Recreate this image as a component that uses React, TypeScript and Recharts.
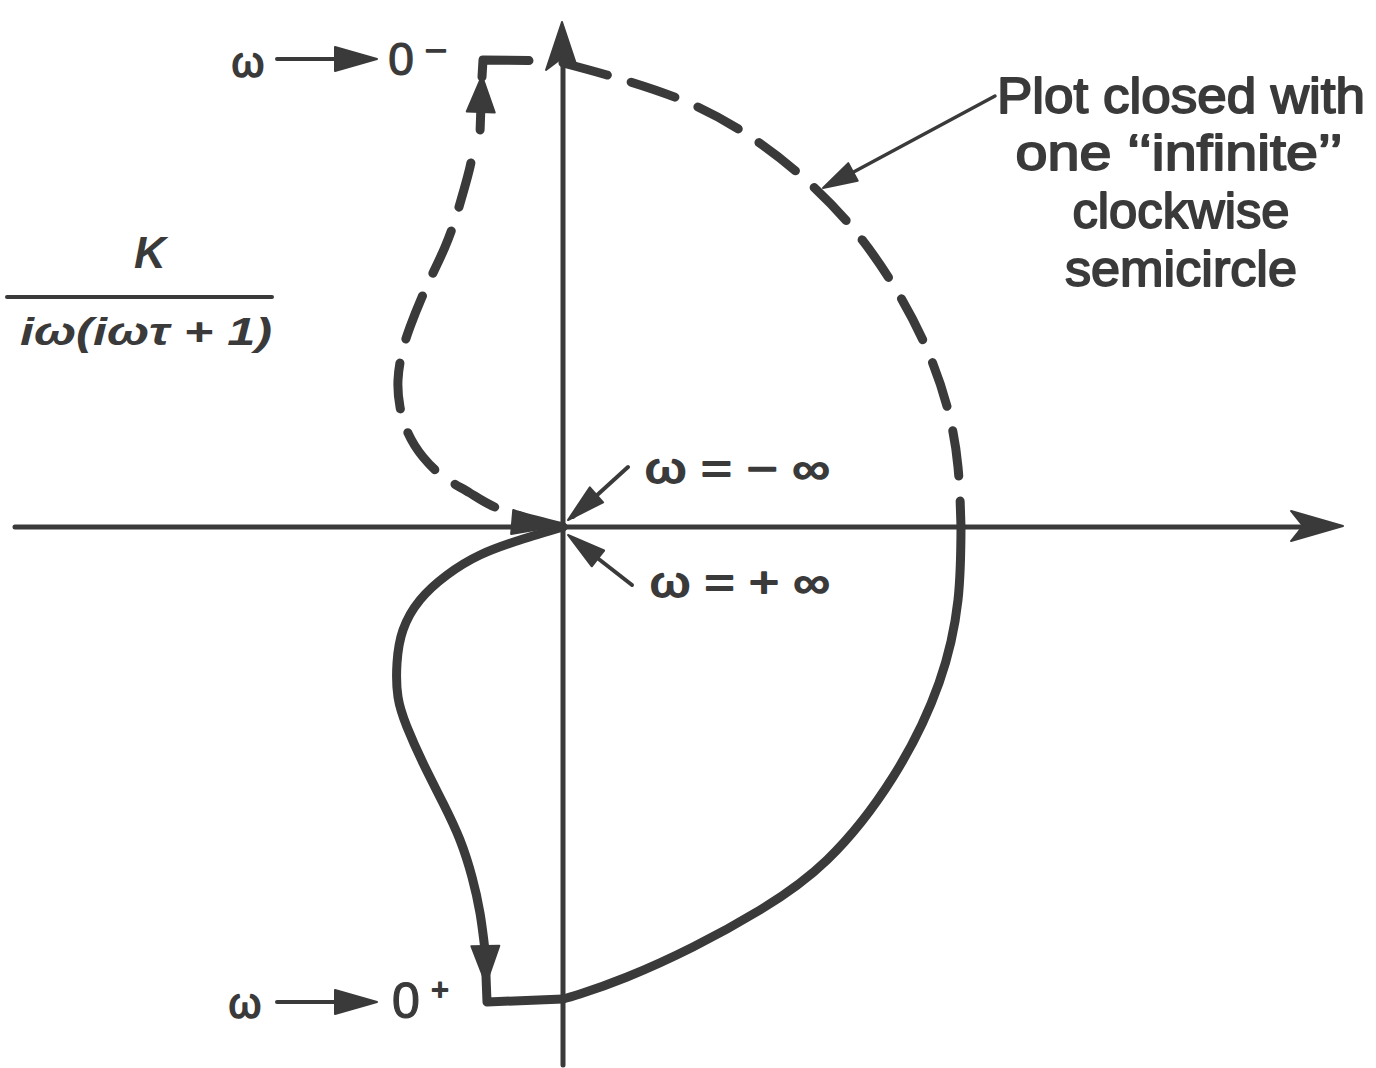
import React from "react";
import { LineChart, Line, XAxis, YAxis, ReferenceLine, ReferenceDot } from "recharts";

const INK = "#3a3a3a";
const FONT = "'Liberation Sans', Arial, sans-serif";

// Drawing units: 1 unit = 100 px, origin where the axes cross (re right, im up).

// ω from −∞ towards 0⁻ (dashed, upper half plane)
const upperLoop = [
  { re: 0, im: 0 },
  { re: -0.61, im: 0.17 },
  { re: -0.93, im: 0.34 },
  { re: -1.18, im: 0.49 },
  { re: -1.4, im: 0.7 },
  { re: -1.55, im: 0.94 },
  { re: -1.63, im: 1.2 },
  { re: -1.65, im: 1.47 },
  { re: -1.61, im: 1.74 },
  { re: -1.53, im: 2.0 },
  { re: -1.41, im: 2.3 },
  { re: -1.3, im: 2.54 },
  { re: -1.18, im: 2.8 },
  { re: -1.08, im: 3.07 },
  { re: -1.0, im: 3.34 },
  { re: -0.93, im: 3.6 },
  { re: -0.88, im: 3.87 },
];
const upperCorner = [
  { re: -0.81, im: 4.5 },
  { re: -0.8, im: 4.67 },
  { re: 0, im: 4.66 },
];
// "infinite" semicircle, upper quarter (dashed)
const upperArc = [
  { re: 0, im: 4.64 },
  { re: 0.44, im: 4.52 },
  { re: 1.14, im: 4.29 },
  { re: 1.77, im: 3.97 },
  { re: 2.35, im: 3.54 },
  { re: 2.87, im: 3.02 },
  { re: 3.29, im: 2.44 },
  { re: 3.63, im: 1.8 },
  { re: 3.85, im: 1.17 },
  { re: 3.95, im: 0.6 },
  { re: 3.98, im: 0 },
];

// ω from 0⁺ to +∞ (solid, lower half plane)
const lowerLoop = [
  { re: 0, im: 0 },
  { re: -0.43, im: -0.13 },
  { re: -0.83, im: -0.28 },
  { re: -1.16, im: -0.48 },
  { re: -1.43, im: -0.73 },
  { re: -1.6, im: -1.03 },
  { re: -1.66, im: -1.36 },
  { re: -1.65, im: -1.7 },
  { re: -1.56, im: -2.0 },
  { re: -1.4, im: -2.36 },
  { re: -1.2, im: -2.76 },
  { re: -1.03, im: -3.13 },
  { re: -0.91, im: -3.5 },
  { re: -0.83, im: -3.86 },
  { re: -0.78, im: -4.23 },
];
const lowerCorner = [
  { re: -0.78, im: -4.23 },
  { re: -0.76, im: -4.75 },
  { re: 0, im: -4.72 },
];
const lowerArc = [
  { re: 0, im: -4.72 },
  { re: 0.17, im: -4.67 },
  { re: 0.64, im: -4.5 },
  { re: 1.3, im: -4.2 },
  { re: 1.97, im: -3.83 },
  { re: 2.64, im: -3.33 },
  { re: 3.3, im: -2.5 },
  { re: 3.76, im: -1.56 },
  { re: 3.95, im: -0.73 },
  { re: 3.98, im: 0 },
];

// filled arrowhead with its tip at the reference point; angle in screen degrees (0 = right, 90 = down)
const arrowHead = (angle: number, len: number, half: number, notch = 0, tail = 0, tailWidth = 9) => (p: any) => {
  const a = (angle * Math.PI) / 180;
  const ux = Math.cos(a);
  const uy = Math.sin(a);
  const { cx, cy } = p;
  const bx = cx - ux * len;
  const by = cy - uy * len;
  const nx = cx - ux * (len - notch);
  const ny = cy - uy * (len - notch);
  return (
    <g>
      {tail > 0 && (
        <line x1={bx} y1={by} x2={cx - ux * (len + tail)} y2={cy - uy * (len + tail)} stroke={INK} strokeWidth={tailWidth} strokeLinecap="round" />
      )}
      <path
        d={`M${cx},${cy} L${bx - uy * half},${by + ux * half} L${nx},${ny} L${bx + uy * half},${by - ux * half} Z`}
        fill={INK}
        stroke={INK}
        strokeWidth={2}
        strokeLinejoin="round"
      />
    </g>
  );
};

type TextOpts = {
  anchor?: "start" | "middle" | "end";
  italic?: boolean;
  bold?: boolean;
  fit?: number;
  heavy?: number;
};

const text = (str: string, size: number, o: TextOpts = {}) => (p: any) => (
  <text
    x={p.cx}
    y={p.cy}
    fontSize={size}
    fontFamily={FONT}
    fill={INK}
    stroke={o.heavy ? INK : "none"}
    strokeWidth={o.heavy ?? 0}
    strokeLinejoin="round"
    textAnchor={o.anchor ?? "middle"}
    fontStyle={o.italic ? "italic" : "normal"}
    fontWeight={o.bold ? "bold" : "normal"}
    textLength={o.fit}
    lengthAdjust={o.fit ? "spacingAndGlyphs" : undefined}
  >
    {str}
  </text>
);

const seg = (x1: number, y1: number, x2: number, y2: number, width: number) => (
  <ReferenceLine
    segment={[{ x: x1, y: y1 }, { x: x2, y: y2 }]}
    stroke={INK}
    strokeWidth={width}
    strokeLinecap="round"
  />
);

const lineStyle = {
  stroke: INK,
  strokeWidth: 9,
  strokeLinecap: "round" as const,
  strokeLinejoin: "round" as const,
  dot: false,
  activeDot: false,
  isAnimationActive: false,
};

export default function App() {
  return (
    <div style={{ position: "absolute", left: 0, top: 0, width: 1376, height: 1068, background: "#fff" }}>
      <LineChart width={1376} height={1068} margin={{ top: 0, right: 0, bottom: 0, left: 0 }}>
        <XAxis dataKey="re" type="number" domain={[-5.63, 8.13]} allowDataOverflow hide />
        <YAxis type="number" domain={[-5.41, 5.27]} allowDataOverflow hide />

        {/* real and imaginary axes */}
        {seg(-5.48, 0, 7.4, 0, 5)}
        {seg(0, -5.38, 0, 4.7, 5)}
        <ReferenceDot x={7.8} y={0.01} r={0} shape={arrowHead(0, 52, 15, 12)} />
        <ReferenceDot x={-0.01} y={5.05} r={0} shape={arrowHead(-90, 48, 16, 12)} />

        {/* Nyquist contour */}
        <Line data={upperLoop} dataKey="im" type="natural" strokeDasharray="46 25" {...lineStyle} />
        <Line data={upperCorner} dataKey="im" type="linear" strokeDasharray="63 400" {...lineStyle} />
        <Line data={upperArc} dataKey="im" type="natural" strokeDasharray="46 25" {...lineStyle} />
        <Line data={lowerLoop} dataKey="im" type="natural" {...lineStyle} />
        <Line data={lowerCorner} dataKey="im" type="linear" {...lineStyle} />
        <Line data={lowerArc} dataKey="im" type="natural" {...lineStyle} />

        <ReferenceDot x={-0.81} y={4.51} r={0} shape={arrowHead(-88, 36, 14, 0, 18)} />
        <ReferenceDot x={-0.77} y={-4.57} r={0} shape={arrowHead(89, 38, 14)} />
        <ReferenceDot x={-0.05} y={0.01} r={0} shape={arrowHead(5, 46, 12)} />

        {/* ω → 0⁻ / ω → 0⁺ */}
        {seg(-2.86, 4.68, -2.2, 4.68, 4)}
        <ReferenceDot x={-1.86} y={4.68} r={0} shape={arrowHead(0, 42, 12)} />
        <ReferenceDot x={-3.15} y={4.5} r={0} shape={text("ω", 42, { heavy: 1.6 })} />
        <ReferenceDot x={-1.62} y={4.52} r={0} shape={text("0", 46, { heavy: 1.2 })} />
        <ReferenceDot x={-1.27} y={4.68} r={0} shape={text("–", 34, { heavy: 1.4 })} />

        {seg(-2.86, -4.75, -2.2, -4.75, 4)}
        <ReferenceDot x={-1.86} y={-4.75} r={0} shape={arrowHead(0, 42, 12)} />
        <ReferenceDot x={-3.18} y={-4.91} r={0} shape={text("ω", 42, { heavy: 1.6 })} />
        <ReferenceDot x={-1.57} y={-4.91} r={0} shape={text("0", 50, { heavy: 1.2 })} />
        <ReferenceDot x={-1.23} y={-4.73} r={0} shape={text("+", 30, { heavy: 1.8 })} />

        {/* transfer function */}
        <ReferenceDot x={-4.13} y={2.59} r={0} shape={text("K", 44, { italic: true, bold: true })} />
        {seg(-5.56, 2.3, -2.91, 2.3, 4)}
        <ReferenceDot x={-5.43} y={1.82} r={0} shape={text("iω(iωτ  +  1)", 38, { anchor: "start", italic: true, bold: true, fit: 252 })} />

        {/* ω = ±∞ at the origin */}
        {seg(0.65, 0.6, 0.1, 0.1, 4)}
        <ReferenceDot x={0.05} y={0.07} r={0} shape={arrowHead(138.5, 38, 10)} />
        <ReferenceDot x={0.82} y={0.44} r={0} shape={text("ω = − ∞", 42, { anchor: "start", fit: 185, heavy: 1.8 })} />
        {seg(0.69, -0.58, 0.1, -0.12, 4)}
        <ReferenceDot x={0.05} y={-0.08} r={0} shape={arrowHead(-142, 38, 10)} />
        <ReferenceDot x={0.87} y={-0.7} r={0} shape={text("ω = + ∞", 42, { anchor: "start", fit: 180, heavy: 1.8 })} />

        {/* note on the closing semicircle */}
        {seg(4.32, 4.31, 2.85, 3.52, 3.5)}
        <ReferenceDot x={2.6} y={3.39} r={0} shape={arrowHead(151.9, 34, 10)} />
        <ReferenceDot x={6.18} y={4.14} r={0} shape={text("Plot closed with", 50, { heavy: 1.8, fit: 368 })} />
        <ReferenceDot x={6.16} y={3.57} r={0} shape={text("one \u2018\u2018infinite\u2019\u2019", 50, { heavy: 1.8, fit: 327 })} />
        <ReferenceDot x={6.18} y={2.99} r={0} shape={text("clockwise", 50, { heavy: 1.8, fit: 217 })} />
        <ReferenceDot x={6.18} y={2.41} r={0} shape={text("semicircle", 50, { heavy: 1.8, fit: 232 })} />
      </LineChart>
    </div>
  );
}
